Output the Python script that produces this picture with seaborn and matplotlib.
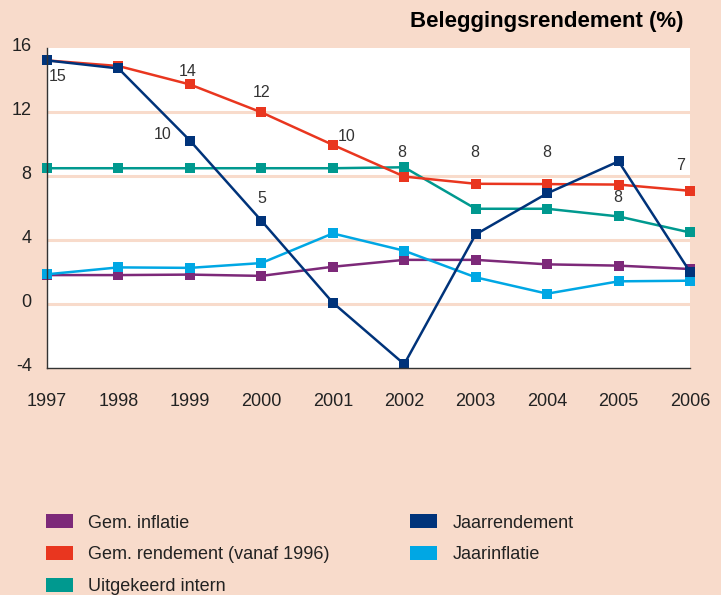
import matplotlib
matplotlib.use('Agg')
import matplotlib.pyplot as plt
import matplotlib.transforms as mtransforms
import seaborn as sns
from matplotlib.patches import Patch

# data
jaren = [1997, 1998, 1999, 2000, 2001, 2002, 2003, 2004, 2005, 2006]
gem_inflatie = [1.8, 1.8, 1.83, 1.75, 2.32, 2.75, 2.75, 2.47, 2.39, 2.18]
jaarinflatie = [1.85, 2.28, 2.25, 2.55, 4.4, 3.32, 1.66, 0.64, 1.41, 1.45]
uitgekeerd_intern = [8.47, 8.47, 8.47, 8.47, 8.47, 8.53, 5.94, 5.94, 5.46, 4.46]
gem_rendement = [15.2, 14.85, 13.7, 11.96, 9.93, 7.95, 7.5, 7.48, 7.45, 7.06]
jaarrendement = [15.2, 14.7, 10.2, 5.2, 0.08, -3.76, 4.34, 6.9, 8.9, 2.0]

# labels met waarden (positie in data-coordinaten)
labels_txt = ['15', '14', '10', '12', '5', '10', '8', '8', '8', '8', '7']
labels_x = [1997.15, 1998.97, 1998.62, 2000.0, 2000.0, 2001.19, 2001.97, 2002.99, 2004.0, 2004.99, 2005.87]
labels_y = [14.2, 14.5, 10.55, 13.2, 6.56, 10.42, 9.43, 9.43, 9.43, 6.62, 8.62]

kleuren = {
    'Gem. inflatie': '#7d2979',
    'Gem. rendement (vanaf 1996)': '#e9361f',
    'Uitgekeerd intern': '#00998f',
    'Jaarrendement': '#00337a',
    'Jaarinflatie': '#00a7e4',
}
series = {
    'Gem. inflatie': gem_inflatie,
    'Jaarinflatie': jaarinflatie,
    'Uitgekeerd intern': uitgekeerd_intern,
    'Gem. rendement (vanaf 1996)': gem_rendement,
    'Jaarrendement': jaarrendement,
}

bg = '#f8dbcb'
sns.set_style('white')
plt.rcParams['font.family'] = ['Liberation Sans', 'DejaVu Sans']
plt.rcParams['axes.unicode_minus'] = False

fig = plt.figure(figsize=(7.21, 5.95), dpi=100, facecolor=bg)
ax = fig.add_axes([47 / 721, 1 - 368 / 595, (690 - 47) / 721, (368 - 47.6) / 595])
ax.set_facecolor('white')

for naam, waarden in series.items():
    sns.lineplot(x=jaren, y=waarden, color=kleuren[naam], marker='s', markersize=6.5,
                 markeredgewidth=0, linewidth=1.8, ax=ax, clip_on=False)

for t, x, y in zip(labels_txt, labels_x, labels_y):
    ax.text(x, y, t, ha='center', va='center', fontsize=11.5, color='#333333')

ax.set_xlim(1997, 2006)
ax.set_ylim(-4, 16)
ax.set_xticks(jaren)
ax.set_yticks([-4, 0, 4, 8, 12, 16])
for g in [0, 4, 8, 12]:
    ax.axhline(g, color=bg, linewidth=2.2, zorder=0.5)

ax.tick_params(axis='x', direction='out', length=7, width=1, color='#333333',
               labelsize=13, labelcolor='#222222', pad=11)
ax.tick_params(axis='y', length=0, labelsize=13, labelcolor='#222222', pad=11)
ax.yaxis.set_tick_params(which='both', left=False)
# y-labels iets hoger, zoals in het origineel
offset = mtransforms.ScaledTranslation(0, 0.035, fig.dpi_scale_trans)
for lbl in ax.get_yticklabels():
    lbl.set_transform(lbl.get_transform() + offset)
for s in ['top', 'right']:
    ax.spines[s].set_visible(False)
for s in ['left', 'bottom']:
    ax.spines[s].set_color('#333333')
    ax.spines[s].set_linewidth(1)
ax.set_xlabel('')
ax.set_ylabel('')
ax.grid(False)

fig.text(683 / 721, 1 - 22 / 595, 'Beleggingsrendement (%)', ha='right', va='center',
         fontsize=16, fontweight='bold', color='black')

# legenda in twee kolommen
links = ['Gem. inflatie', 'Gem. rendement (vanaf 1996)', 'Uitgekeerd intern']
rechts = ['Jaarrendement', 'Jaarinflatie']
for namen, xpos in [(links, 39 / 721), (rechts, 403 / 721)]:
    handles = [Patch(facecolor=kleuren[n], edgecolor='none') for n in namen]
    leg = fig.legend(handles, namen, loc='upper left', bbox_to_anchor=(xpos, 1 - 507 / 595),
                     frameon=False, fontsize=13, handlelength=1.5, handleheight=0.83,
                     handletextpad=0.83, labelspacing=0.8, borderaxespad=0)
    for txt in leg.get_texts():
        txt.set_color('#222222')

fig.savefig('out.png', dpi=100, facecolor=bg)
